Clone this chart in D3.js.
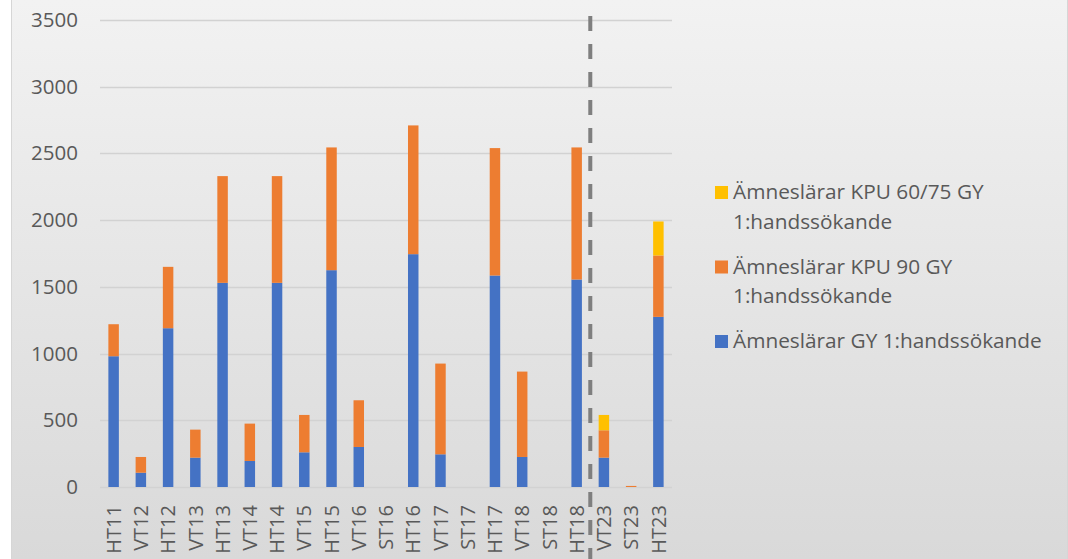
<!DOCTYPE html>
<html>
<head>
<meta charset="utf-8">
<script src="https://cdn.jsdelivr.net/npm/d3@7"></script>
<style>
  body { margin: 0; background: #fff; }
  svg { display: block; font-family: "Open Sans", sans-serif; }
</style>
</head>
<body>
<svg width="1068" height="559"></svg>
<script>
// data
var categories = ["HT11","VT12","HT12","VT13","HT13","VT14","HT14","VT15","HT15","VT16","ST16",
                  "HT16","VT17","ST17","HT17","VT18","ST18","HT18","VT23","ST23","HT23"];
var gy      = [980,107,1190,220,1530,195,1530,260,1625,300,0,1745,245,0,1585,225,0,1555,220,0,1275];
var kpu90   = [240,118,460,210,800,280,800,280,920,350,0,965,680,0,955,640,0,990,205,8,460];
var kpu6075 = [0,0,0,0,0,0,0,0,0,0,0,0,0,0,0,0,0,0,115,0,255];
var yTicks  = [0,500,1000,1500,2000,2500,3000,3500];
var seriesNames = ["Ämneslärar GY 1:handssökande",
                   "Ämneslärar KPU 90 GY 1:handssökande",
                   "Ämneslärar KPU 60/75 GY 1:handssökande"];
var legendLines = [["Ämneslärar KPU 60/75 GY", "1:handssökande"],
                   ["Ämneslärar KPU 90 GY", "1:handssökande"],
                   ["Ämneslärar GY 1:handssökande"]];
var dividerAfter = "HT18";

var svg = d3.select("svg"),
    W = +svg.attr("width"), H = +svg.attr("height");

// background panel
var defs = svg.append("defs");
var grad = defs.append("linearGradient").attr("id", "bg")
    .attr("x1", 0).attr("y1", 0).attr("x2", 0).attr("y2", 1);
grad.append("stop").attr("offset", "0%").attr("stop-color", "#f2f2f2");
grad.append("stop").attr("offset", "100%").attr("stop-color", "#d9d9d9");
svg.append("rect").attr("x", 12).attr("y", 0).attr("width", 1055).attr("height", H)
    .attr("fill", "url(#bg)");
svg.append("line").attr("x1", 11.5).attr("x2", 11.5).attr("y1", 0).attr("y2", H)
    .attr("stroke", "#d6d6d6");
svg.append("line").attr("x1", 1067.5).attr("x2", 1067.5).attr("y1", 0).attr("y2", H)
    .attr("stroke", "#d6d6d6");

var x = d3.scaleBand().domain(categories).range([100, 672])
    .paddingInner(0.615).paddingOuter(0.3075);
var y = d3.scaleLinear().domain([0, 3500]).range([487, 20]);
var color = d3.scaleOrdinal().domain(seriesNames).range(["#4472c4", "#ed7d31", "#ffc000"]);

// gridlines
svg.append("g").selectAll("line").data(yTicks).enter().append("line")
    .attr("x1", 100).attr("x2", 672)
    .attr("y1", function(d) { return Math.round(y(d)) + 0.5; })
    .attr("y2", function(d) { return Math.round(y(d)) + 0.5; })
    .attr("stroke", "#d2d2d2").attr("stroke-width", 1.5);

// y axis labels
var yAxis = svg.append("g").attr("transform", "translate(78,0)")
    .call(d3.axisLeft(y).tickValues(yTicks).tickFormat(d3.format("d")).tickSize(0).tickPadding(0));
yAxis.select(".domain").remove();
yAxis.selectAll("text").attr("font-size", 20.5).attr("fill", "#595959")
    .attr("font-family", "Open Sans, sans-serif");

// stacked bars
var rows = categories.map(function(c, i) {
  var r = {cat: c};
  r[seriesNames[0]] = gy[i];
  r[seriesNames[1]] = kpu90[i];
  r[seriesNames[2]] = kpu6075[i];
  return r;
});
var stack = d3.stack().keys(seriesNames)(rows);
svg.append("g").selectAll("g").data(stack).enter().append("g")
    .attr("fill", function(d) { return color(d.key); })
  .selectAll("rect").data(function(d) { return d; }).enter().append("rect")
    .attr("x", function(d) { return x(d.data.cat); })
    .attr("y", function(d) { return y(d[1]); })
    .attr("width", x.bandwidth())
    .attr("height", function(d) { return y(d[0]) - y(d[1]); });

// x axis labels
var xAxis = svg.append("g").attr("transform", "translate(0,505)")
    .call(d3.axisBottom(x).tickSize(0).tickPadding(0));
xAxis.select(".domain").remove();
xAxis.selectAll("text")
    .attr("font-size", 20).attr("fill", "#595959")
    .attr("font-family", "Open Sans, sans-serif")
    .attr("transform", "rotate(-90)")
    .attr("text-anchor", "end")
    .attr("x", 0).attr("y", 0).attr("dy", "0.36em");

// dashed divider
var xi = categories.indexOf(dividerAfter);
var xd = (x(categories[xi]) + x(categories[xi + 1]) + x.bandwidth()) / 2;
svg.append("line").attr("x1", xd).attr("x2", xd).attr("y1", 16).attr("y2", H)
    .attr("stroke", "#7f7f7f").attr("stroke-width", 4)
    .attr("stroke-dasharray", "15,13");

// legend
var legendKeys = seriesNames.slice().reverse();
var baseY = 199, lineH = 29.5, entryStep = 74.5;
var legend = svg.append("g").selectAll("g").data(legendKeys).enter().append("g")
    .attr("transform", function(d, i) { return "translate(0," + (baseY + i * entryStep) + ")"; });
legend.append("rect")
    .attr("x", 715).attr("y", -13).attr("width", 13).attr("height", 13)
    .attr("fill", function(d) { return color(d); });
legend.append("text")
    .attr("font-size", 20.8).attr("fill", "#595959")
    .selectAll("tspan").data(function(d, i) { return legendLines[i]; }).enter().append("tspan")
    .attr("x", 733).attr("y", function(d, j) { return j * lineH; })
    .text(function(d) { return d; });
</script>
</body>
</html>
